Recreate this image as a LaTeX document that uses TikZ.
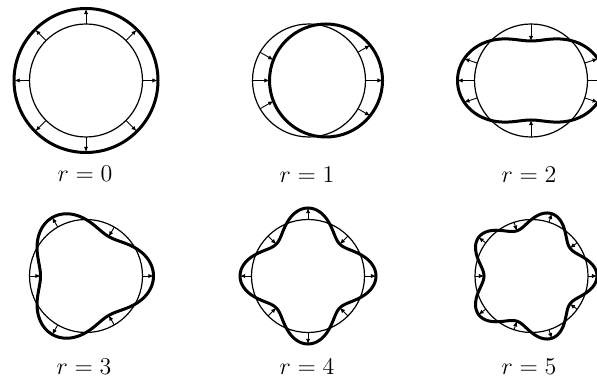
\documentclass[tikz,border=0pt]{standalone}
\usepackage{amsmath,amssymb}
\usepackage{tikz}
\usetikzlibrary{arrows.meta}

\begin{document}
\begin{tikzpicture}[x=0.5pt,y=0.5pt,
    rest/.style={line width=0.6pt},
    mode/.style={line width=1.5pt},
    disp/.style={line width=0.45pt,-{Latex[length=2.6pt,width=2.2pt]}},
    lab/.style={font=\large}]
  \useasboundingbox (0,0) rectangle (597,-378);
  % r = 0
  \begin{scope}[shift={(86,-80.5)}]
    \draw[rest] (0,0) circle (56.5);
    \draw[mode] (0,0) circle (72);
    \foreach \t in {0,45,...,315}
      \draw[disp] (\t:56.5) -- (\t:71.5);
  \end{scope}
  % r = 1
  \begin{scope}[shift={(309,-80.5)}]
    \draw[rest] (0,0) circle (56.5);
    \draw[mode] (17,0) circle (56.5);
    \foreach \t in {0,30,150,180,210,330}
      \draw[disp] (\t:56.5) -- (\t:{17*cos(\t)+sqrt(3192.25-289*sin(\t)^2)});
  \end{scope}
  % r = 2
  \begin{scope}[shift={(531,-80.5)}]
    \draw[rest] (0,0) circle (56.5);
    \draw[mode] plot[smooth cycle,domain=0:358,samples=180,variable=\t]
      (\t:{56.5+17*cos(2*\t)});
    \foreach \t in {0,18,90,162,180,198,270,342}
      \draw[disp] (\t:56.5) -- (\t:{56.5+17*cos(2*\t)});
  \end{scope}
  % r = 3
  \begin{scope}[shift={(86,-276)}]
    \draw[rest] (0,0) circle (56.5);
    \draw[mode] plot[smooth cycle,domain=0:358,samples=180,variable=\t]
      (\t:{56.5+11*cos(3*\t)});
    \foreach \t in {0,60,...,300}
      \draw[disp] (\t:56.5) -- (\t:{56.5+11*cos(3*\t)});
  \end{scope}
  % r = 4
  \begin{scope}[shift={(308,-276)}]
    \draw[rest] (0,0) circle (56.5);
    \draw[mode] plot[smooth cycle,domain=0:358,samples=180,variable=\t]
      (\t:{56.5+11.5*cos(4*\t)});
    \foreach \t in {0,45,...,315}
      \draw[disp] (\t:56.5) -- (\t:{56.5+11.5*cos(4*\t)});
  \end{scope}
  % r = 5
  \begin{scope}[shift={(531.5,-276)}]
    \draw[rest] (0,0) circle (56.5);
    \draw[mode] plot[smooth cycle,domain=0:358,samples=180,variable=\t]
      (\t:{56.5+9*cos(5*\t)});
    \foreach \t in {0,36,...,324}
      \draw[disp] (\t:56.5) -- (\t:{56.5+9*cos(5*\t)});
  \end{scope}
  % labels
  \node[lab] (lab0) at (85,-174) {$r=0$};
  \node[lab] (lab1) at (307,-175) {$r=1$};
  \node[lab] (lab2) at (529,-175) {$r=2$};
  \node[lab] (lab3) at (84,-367) {$r=3$};
  \node[lab] (lab4) at (307,-367) {$r=4$};
  \node[lab] (lab5) at (529,-367) {$r=5$};
\end{tikzpicture}
\end{document}
